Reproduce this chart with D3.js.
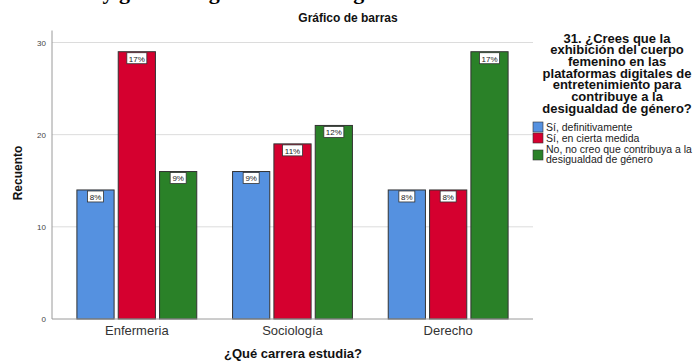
<!DOCTYPE html>
<html>
<head>
<meta charset="utf-8">
<script src="https://cdn.jsdelivr.net/npm/d3@7"></script>
<style>
  body { margin: 0; background: #fff; }
  text { font-family: "Liberation Sans", Arial, sans-serif; }
</style>
</head>
<body>
<div id="chart"></div>
<script>
const categories = ["Enfermeria", "Sociología", "Derecho"];
const seriesNames = ["Sí, definitivamente", "Sí, en cierta medida", "No, no creo que contribuya a la desigualdad de género"];
const siDefinitivamente = [14, 16, 14];
const siCiertaMedida = [29, 19, 14];
const noContribuye = [16, 21, 29];
const pctDefinitivamente = ["8%", "9%", "8%"];
const pctCiertaMedida = ["17%", "11%", "8%"];
const pctNoContribuye = ["9%", "12%", "17%"];
const yTicks = [0, 10, 20, 30];
const colors = ["#5591e0", "#d5002f", "#2a8128"];

const svg = d3.select("#chart")
  .append("svg")
  .attr("width", 700)
  .attr("height", 361);

// heading of the page above, cut off at the top edge
svg.append("text")
  .attr("x", 44)
  .attr("y", -1)
  .attr("font-weight", "bold")
  .attr("font-size", "22px")
  .attr("fill", "#000")
  .style("font-family", "'Liberation Serif', serif")
  .text("Tabla y gráfico según carrera de género");

const series = [siDefinitivamente, siCiertaMedida, noContribuye];
const pcts = [pctDefinitivamente, pctCiertaMedida, pctNoContribuye];

const data = categories.map((c, i) => ({
  cat: c,
  values: series.map((s, j) => ({ key: j, value: s[i], pct: pcts[j][i] }))
}));

const x0 = d3.scaleBand()
  .domain(categories)
  .range([59, 526])
  .paddingInner(0.23)
  .paddingOuter(0.115);

const x1 = d3.scaleBand()
  .domain([0, 1, 2])
  .range([0, x0.bandwidth()])
  .paddingInner(0.1);

const y = d3.scaleLinear()
  .domain([0, 30])
  .range([319, 42.5]);

// gridlines
svg.append("g")
  .selectAll("line")
  .data(yTicks.filter(d => d > 0))
  .join("line")
  .attr("x1", 52)
  .attr("x2", 533)
  .attr("y1", d => y(d))
  .attr("y2", d => y(d))
  .attr("stroke", "#dcdcdc")
  .attr("stroke-width", 1);

// y axis
const yAxis = svg.append("g")
  .attr("transform", "translate(52,0)")
  .call(d3.axisLeft(y).tickValues(yTicks).tickSize(0).tickPadding(6));
yAxis.select(".domain").attr("stroke", "#9a9a9a").attr("d", "M0," + y(31.3) + "V" + y(0));
yAxis.selectAll("text").attr("font-size", "8px").attr("fill", "#444").attr("font-family", "Liberation Sans, Arial, sans-serif");

// bars
const groups = svg.append("g")
  .selectAll("g")
  .data(data)
  .join("g")
  .attr("transform", d => `translate(${x0(d.cat)},0)`);

groups.selectAll("rect")
  .data(d => d.values)
  .join("rect")
  .attr("x", d => x1(d.key))
  .attr("y", d => y(d.value))
  .attr("width", x1.bandwidth())
  .attr("height", d => y(0) - y(d.value))
  .attr("fill", d => colors[d.key])
  .attr("stroke", "#333")
  .attr("stroke-width", 1);

// percentage labels
const lab = groups.selectAll("g.lab")
  .data(d => d.values)
  .join("g")
  .attr("class", "lab")
  .attr("transform", d => `translate(${x1(d.key) + x1.bandwidth() / 2},${y(d.value)})`);

lab.append("rect")
  .attr("x", d => d.pct.length > 2 ? -10 : -8)
  .attr("y", 1)
  .attr("width", d => d.pct.length > 2 ? 20 : 16)
  .attr("height", 11)
  .attr("fill", "#fff")
  .attr("stroke", "#333")
  .attr("stroke-width", 0.8);

lab.append("text")
  .attr("y", 9.8)
  .attr("text-anchor", "middle")
  .attr("font-size", "8px")
  .attr("fill", "#222")
  .text(d => d.pct);

// x axis
svg.append("line")
  .attr("x1", 52)
  .attr("x2", 533)
  .attr("y1", y(0))
  .attr("y2", y(0))
  .attr("stroke", "#9a9a9a");

svg.append("g")
  .selectAll("text")
  .data(categories)
  .join("text")
  .attr("x", d => x0(d) + x0.bandwidth() / 2)
  .attr("y", 335)
  .attr("text-anchor", "middle")
  .attr("font-size", "13px")
  .attr("fill", "#333")
  .text(d => d);

// titles
svg.append("text")
  .attr("x", 293)
  .attr("y", 358)
  .attr("text-anchor", "middle")
  .attr("font-size", "13px")
  .attr("font-weight", "bold")
  .attr("fill", "#111")
  .text("¿Qué carrera estudia?");

svg.append("text")
  .attr("transform", "translate(22,173) rotate(-90)")
  .attr("text-anchor", "middle")
  .attr("font-size", "12px")
  .attr("font-weight", "bold")
  .attr("fill", "#111")
  .text("Recuento");

svg.append("text")
  .attr("x", 348)
  .attr("y", 22)
  .attr("text-anchor", "middle")
  .attr("font-size", "12px")
  .attr("font-weight", "bold")
  .attr("fill", "#111")
  .text("Gráfico de barras");

// legend
const legendTitle = ["31. ¿Crees que la", "exhibición del cuerpo", "femenino en las", "plataformas digitales de", "entretenimiento para", "contribuye a la", "desigualdad de género?"];
svg.append("text")
  .attr("text-anchor", "middle")
  .attr("font-size", "13px")
  .attr("font-weight", "bold")
  .attr("fill", "#111")
  .selectAll("tspan")
  .data(legendTitle)
  .join("tspan")
  .attr("x", 617)
  .attr("y", (d, i) => 42.5 + i * 11.7)
  .text(d => d);

const legendRows = [
  { key: 0, lines: ["Sí, definitivamente"], y: 127 },
  { key: 1, lines: ["Sí, en cierta medida"], y: 138 },
  { key: 2, lines: ["No, no creo que contribuya a la", "desigualdad de género"], y: 149 }
];

const li = svg.append("g")
  .selectAll("g")
  .data(legendRows)
  .join("g");

li.append("rect")
  .attr("x", 533)
  .attr("y", d => d.key === 2 ? d.y + 1 : d.y - 5)
  .attr("width", 10)
  .attr("height", 10)
  .attr("fill", d => colors[d.key])
  .attr("stroke", "#333")
  .attr("stroke-width", 0.6);

li.append("text")
  .attr("font-size", "10.5px")
  .attr("fill", "#222")
  .selectAll("tspan")
  .data(d => d.lines.map((l, i) => ({ l, i, y: d.y })))
  .join("tspan")
  .attr("x", 546)
  .attr("y", d => d.y + 4 + d.i * 10)
  .text(d => d.l);
</script>
</body>
</html>
